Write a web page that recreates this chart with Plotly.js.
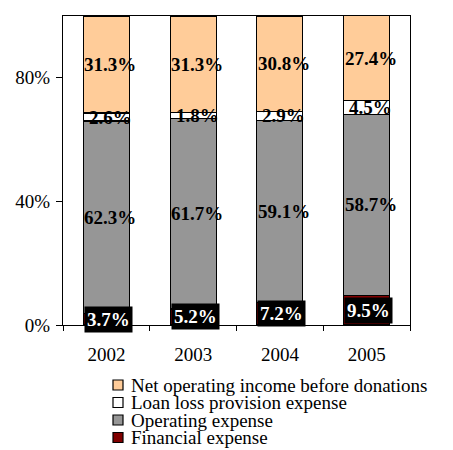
<!DOCTYPE html>
<html>
<head>
<meta charset="utf-8">
<script src="https://cdn.plot.ly/plotly-3.0.1.min.js"></script>
<style>html,body{margin:0;padding:0;background:#fff;}#chart{width:453px;height:450px;}</style>
</head>
<body>
<div id="chart"></div>
<script>
// ---- data ----
const years = ['2002', '2003', '2004', '2005'];
const financialExpense = [3.7, 5.2, 7.2, 9.5];
const operatingExpense = [62.3, 61.7, 59.1, 58.7];
const loanLossExpense = [2.6, 1.8, 2.9, 4.5];
const netOperatingIncome = [31.3, 31.3, 30.8, 27.4];
const seriesNames = ['Financial expense', 'Operating expense', 'Loan loss provision expense', 'Net operating income before donations'];
const yTickVals = [0, 40, 80];
const yTickText = ['0%', '40%', '80%'];

// ---- styles ----
const FONT = 'Liberation Serif, Times New Roman, serif';
const colors = ['#800000', '#969696', '#FFFFFF', '#FFCC99'];
const seriesValues = [financialExpense, operatingExpense, loanLossExpense, netOperatingIncome];

const traces = seriesValues.map((vals, i) => ({
  type: 'bar',
  name: seriesNames[i],
  x: years,
  y: vals,
  marker: {color: colors[i], line: {color: '#000', width: 1.2}},
  showlegend: false,
  hoverinfo: 'skip'
}));

const fmt = v => v.toFixed(1) + '%';
const annotations = [];
years.forEach((yr, j) => {
  let base = 0;
  seriesValues.forEach((vals, i) => {
    const v = vals[j];
    const mid = base + v / 2;
    base += v;
    if (i === 0) {
      annotations.push({
        x: j, y: mid, xref: 'x', yref: 'y', text: fmt(v), showarrow: false,
        xshift: 2, bgcolor: '#000', borderpad: 2,
        font: {family: FONT, size: 19, color: '#fff', weight: 'bold'}
      });
    } else {
      annotations.push({
        x: j, y: mid, xref: 'x', yref: 'y', text: fmt(v), showarrow: false,
        xshift: 4,
        font: {family: FONT, size: 19, color: '#000', weight: 'bold'}
      });
    }
  });
});

// custom legend (reversed order, tight spacing like reference)
const plotTop = 16, plotBottom = 325, plotLeft = 63, plotRight = 410;
const ph = plotBottom - plotTop, pw = plotRight - plotLeft;
const legendRows = [385, 402.5, 420, 437.5];
const shapes = [];
for (let k = 0; k < 4; k++) {
  const i = 3 - k;
  const py = legendRows[k];
  const yp = (plotBottom - py) / ph;
  shapes.push({
    type: 'rect', xref: 'paper', yref: 'paper',
    xsizemode: 'pixel', ysizemode: 'pixel',
    xanchor: (113 - plotLeft) / pw, yanchor: yp,
    x0: 0, x1: 10, y0: -5, y1: 5,
    fillcolor: colors[i], line: {color: '#000', width: 1.2}
  });
  annotations.push({
    xref: 'paper', yref: 'paper', x: (129 - plotLeft) / pw, y: yp,
    xanchor: 'left', yanchor: 'middle', showarrow: false,
    text: seriesNames[i],
    font: {family: FONT, size: 19, color: '#000'}
  });
}

const layout = {
  width: 453, height: 450,
  margin: {l: plotLeft, r: 453 - plotRight, t: plotTop, b: 450 - plotBottom, pad: 0},
  paper_bgcolor: '#fff', plot_bgcolor: '#fff',
  barmode: 'stack', bargap: 0.47,
  showlegend: false,
  font: {family: FONT, size: 19, color: '#000'},
  xaxis: {
    type: 'category', showline: true, linecolor: '#000', linewidth: 1, mirror: true,
    ticks: 'outside', tickson: 'boundaries', ticklen: 5, tickcolor: '#000',
    showgrid: false, zeroline: false, tickangle: 0, ticklabelstandoff: 12,
    tickfont: {family: FONT, size: 19, color: '#000'}
  },
  yaxis: {
    range: [0, 100], showline: true, linecolor: '#000', linewidth: 1, mirror: true,
    ticks: 'outside', ticklen: 6, tickcolor: '#000',
    tickvals: yTickVals, ticktext: yTickText, ticklabelstandoff: 2,
    showgrid: false, zeroline: false,
    tickfont: {family: FONT, size: 19, color: '#000'}
  },
  annotations: annotations,
  shapes: shapes
};

Plotly.newPlot('chart', traces, layout, {staticPlot: true, displayModeBar: false});
</script>
</body>
</html>
